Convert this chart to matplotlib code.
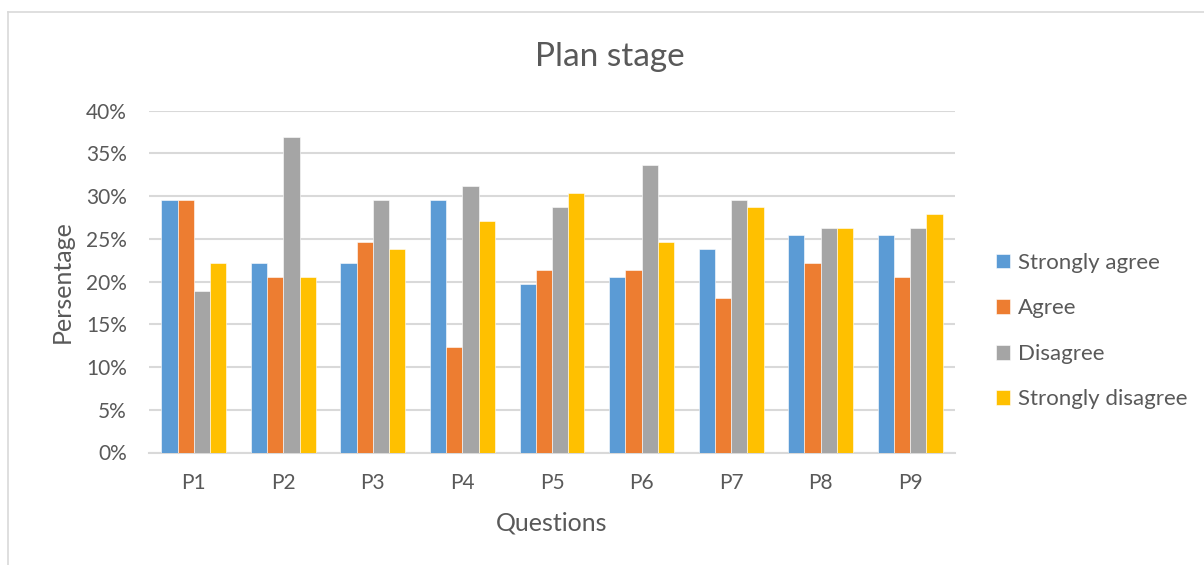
import numpy as np
import matplotlib
matplotlib.use("Agg")
import matplotlib.pyplot as plt
from matplotlib.lines import Line2D
from matplotlib.ticker import PercentFormatter

plt.rcParams['font.family'] = ['Lato', 'DejaVu Sans']

questions = ["P1", "P2", "P3", "P4", "P5", "P6", "P7", "P8", "P9"]
strongly_agree = [29.51, 22.13, 22.13, 29.51, 19.67, 20.49, 23.77, 25.41, 25.41]
agree = [29.51, 20.49, 24.59, 12.30, 21.31, 21.31, 18.03, 22.13, 20.49]
disagree = [18.85, 36.89, 29.51, 31.15, 28.69, 33.61, 29.51, 26.23, 26.23]
strongly_disagree = [22.13, 20.49, 23.77, 27.05, 30.33, 24.59, 28.69, 26.23, 27.87]

series_names = ["Strongly agree", "Agree", "Disagree", "Strongly disagree"]
series_values = [strongly_agree, agree, disagree, strongly_disagree]
colors = ["#5B9BD5", "#ED7D31", "#A5A5A5", "#FFC000"]
text_color = "#595959"
grid_color = "#D9D9D9"

fig = plt.figure(figsize=(12.04, 5.65), dpi=100)
ax = fig.add_axes([149 / 1204, 1 - 452.5 / 565, (955 - 149) / 1204, (452.5 - 110.7) / 565])

x = np.arange(len(questions))
group = 1 / 1.38
w = group / len(series_names)
for i, (name, vals, c) in enumerate(zip(series_names, series_values, colors)):
    offs = (i - (len(series_names) - 1) / 2) * w
    ax.bar(x + offs, np.array(vals) / 100, width=w, color=c, label=name,
           edgecolor="white", linewidth=0.4, zorder=3)

ax.set_xlim(-0.5, len(questions) - 0.5)
ax.set_ylim(0, 0.40)
ax.set_yticks(np.arange(0, 0.401, 0.05))
ax.yaxis.set_major_formatter(PercentFormatter(1.0, decimals=0))
ax.set_xticks(x)
ax.set_xticklabels(questions)
ax.grid(axis="y", color=grid_color, linewidth=1.5, zorder=0)
ax.tick_params(axis="both", length=0, labelsize=15, colors=text_color)
ax.tick_params(axis="x", pad=15)
ax.tick_params(axis="y", pad=16)
for s in ["top", "right", "left"]:
    ax.spines[s].set_visible(False)
ax.spines["bottom"].set_color(grid_color)
ax.spines["bottom"].set_linewidth(1.5)

ax.set_xlabel("Questions", fontsize=18, color=text_color, labelpad=13)
ax.set_ylabel("Persentage", fontsize=18, color=text_color, labelpad=9)

fig.text(610 / 1204, 1 - 57 / 565, "Plan stage", ha="center", va="center",
         fontsize=24, color=text_color)

ax.legend(loc="center left", bbox_to_anchor=(1.026, 0.355), frameon=False,
          fontsize=16, labelcolor=text_color, handlelength=0.65, handleheight=0.65,
          handletextpad=0.35, labelspacing=1.15)

# outer chart frame
fig.add_artist(Line2D([7.5 / 1204, 7.5 / 1204], [0, 1 - 12 / 565],
                      transform=fig.transFigure, color=grid_color, linewidth=1.2))
fig.add_artist(Line2D([7.5 / 1204, 1], [1 - 12 / 565, 1 - 12 / 565],
                      transform=fig.transFigure, color=grid_color, linewidth=1.2))

fig.savefig("out.png", dpi=100)
